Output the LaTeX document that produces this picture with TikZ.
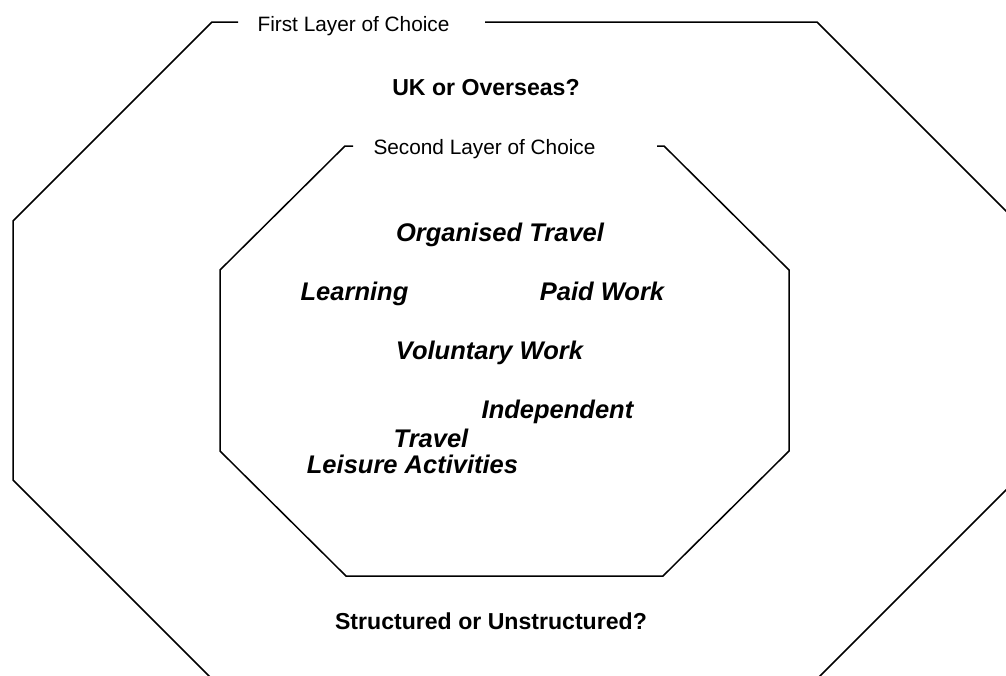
\documentclass[tikz,border=0pt]{standalone}
\usepackage{fontspec}
\setmainfont{Liberation Sans}
\begin{document}
\begin{tikzpicture}[x=1pt,y=-1pt,
  edge/.style={line width=1.5pt, line join=miter},
  lab/.style={font=\fontsize{20.8}{24}\selectfont, inner sep=0pt, anchor=base},
  quest/.style={font=\fontsize{23.1}{27}\selectfont\bfseries, inner sep=0pt, anchor=base},
  item/.style={font=\fontsize{25.5}{30}\selectfont\bfseries\itshape, inner sep=0pt, anchor=base}]
\useasboundingbox (0,0) rectangle (1006,675);
\fill[white] (0,0) rectangle (1006,675);
\clip (0,0) rectangle (1006,675);

% outer octagon (first layer)
\draw[edge] (238,22) -- (212,22) -- (13,221) -- (13,480) -- (228,695);
\draw[edge] (485,22) -- (817,22) -- (1016,221) -- (1016,480) -- (801,695);

% inner octagon (second layer)
\draw[edge] (353,146) -- (345,146) -- (220,270) -- (220,451) -- (346,576)
  -- (663,576) -- (789,451) -- (789,270) -- (664,146) -- (657,146);

% labels
\node[lab] (first) at (353.5,31) {First Layer of Choice};
\node[quest] (uk) at (486,95) {UK or Overseas?};
\node[lab] (second) at (484.5,154) {Second Layer of Choice};
\node[item] (org) at (500,241) {Organised Travel};
\node[item] (learn) at (354.5,300) {Learning};
\node[item] (paid) at (602,300) {Paid Work};
\node[item] (vol) at (489.5,359) {Voluntary Work};
\node[item] (indep) at (557.5,418) {Independent};
\node[item] (trav) at (431,447) {Travel};
\node[item] (leis) at (412.5,473) {Leisure Activities};
\node[quest] (struct) at (491,629) {Structured or Unstructured?};
\end{tikzpicture}
\end{document}
